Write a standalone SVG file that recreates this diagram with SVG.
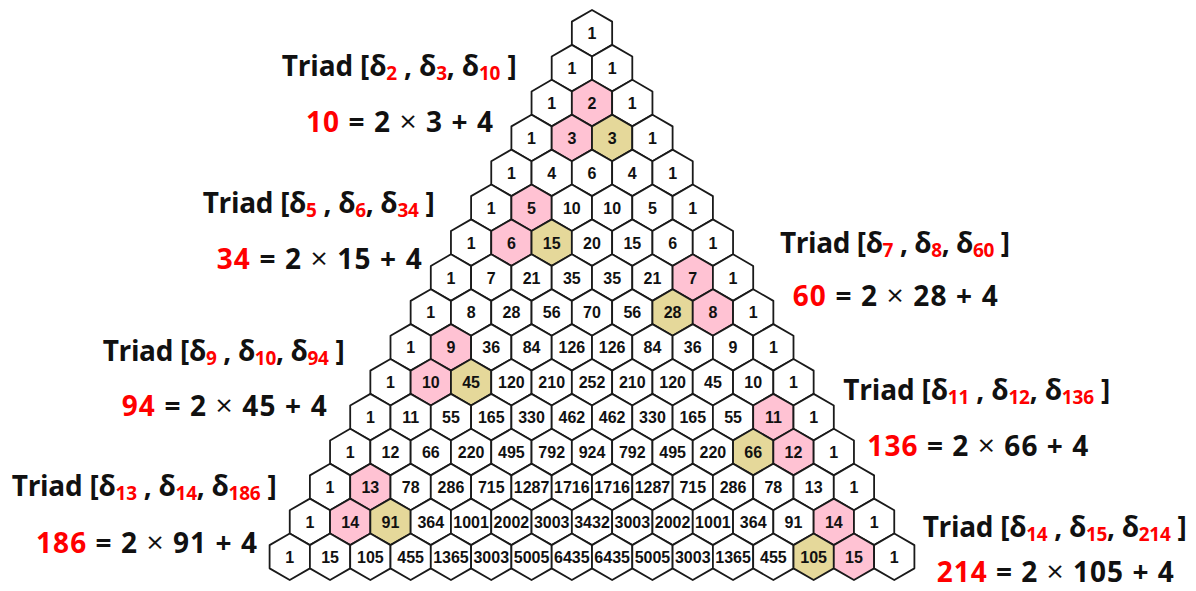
<svg xmlns="http://www.w3.org/2000/svg" xmlns:xlink="http://www.w3.org/1999/xlink" width="1196" height="591" viewBox="0 0 1196 591">
  <style>
    .hx { stroke: #1a1a1a; stroke-width: 1.8; stroke-linejoin: round; }
    .w { fill: #ffffff; }
    .p { fill: #ffc2d3; }
    .k { fill: #e5d89a; }
    .n text { font-family: "Liberation Sans", Arial, sans-serif; font-weight: bold; font-size: 16px; fill: #111; text-anchor: middle; }
    .lb { font-family: "Open Sans", "Noto Sans", sans-serif; font-weight: bold; font-size: 28px; fill: #111; }
    .s { fill: #ff0000; font-size: 19px; }
    .r { fill: #ff0000; }
    .x { font-weight: normal; font-size: 30px; }
  </style>
  <defs>
    <path id="hex" class="hx" d="M0,-23.25 L20.15,-11.6 L20.15,11.6 L0,23.25 L-20.15,11.6 L-20.15,-11.6 Z"/>
  </defs>
  <rect width="1196" height="591" fill="#ffffff"/>

  <!-- connectors: the hexagons touch edge to edge, so there are no separate lines -->
  <g id="connectors"></g>

  <!-- Pascal's triangle, rows 0-15 -->
  <g id="triangle" class="n">
    <g id="n0-0" transform="translate(592 33.25)"><use href="#hex" class="w"/><text y="6">1</text></g>

    <g id="n1-0" transform="translate(571.85 68.15)"><use href="#hex" class="w"/><text y="6">1</text></g>
    <g id="n1-1" transform="translate(612.15 68.15)"><use href="#hex" class="w"/><text y="6">1</text></g>

    <g id="n2-0" transform="translate(551.7 103.05)"><use href="#hex" class="w"/><text y="6">1</text></g>
    <g id="n2-1" transform="translate(592 103.05)"><use href="#hex" class="p"/><text y="6">2</text></g>
    <g id="n2-2" transform="translate(632.3 103.05)"><use href="#hex" class="w"/><text y="6">1</text></g>

    <g id="n3-0" transform="translate(531.55 137.95)"><use href="#hex" class="w"/><text y="6">1</text></g>
    <g id="n3-1" transform="translate(571.85 137.95)"><use href="#hex" class="p"/><text y="6">3</text></g>
    <g id="n3-2" transform="translate(612.15 137.95)"><use href="#hex" class="k"/><text y="6">3</text></g>
    <g id="n3-3" transform="translate(652.45 137.95)"><use href="#hex" class="w"/><text y="6">1</text></g>

    <g id="n4-0" transform="translate(511.4 172.85)"><use href="#hex" class="w"/><text y="6">1</text></g>
    <g id="n4-1" transform="translate(551.7 172.85)"><use href="#hex" class="w"/><text y="6">4</text></g>
    <g id="n4-2" transform="translate(592 172.85)"><use href="#hex" class="w"/><text y="6">6</text></g>
    <g id="n4-3" transform="translate(632.3 172.85)"><use href="#hex" class="w"/><text y="6">4</text></g>
    <g id="n4-4" transform="translate(672.6 172.85)"><use href="#hex" class="w"/><text y="6">1</text></g>

    <g id="n5-0" transform="translate(491.25 207.75)"><use href="#hex" class="w"/><text y="6">1</text></g>
    <g id="n5-1" transform="translate(531.55 207.75)"><use href="#hex" class="p"/><text y="6">5</text></g>
    <g id="n5-2" transform="translate(571.85 207.75)"><use href="#hex" class="w"/><text y="6">10</text></g>
    <g id="n5-3" transform="translate(612.15 207.75)"><use href="#hex" class="w"/><text y="6">10</text></g>
    <g id="n5-4" transform="translate(652.45 207.75)"><use href="#hex" class="w"/><text y="6">5</text></g>
    <g id="n5-5" transform="translate(692.75 207.75)"><use href="#hex" class="w"/><text y="6">1</text></g>

    <g id="n6-0" transform="translate(471.1 242.65)"><use href="#hex" class="w"/><text y="6">1</text></g>
    <g id="n6-1" transform="translate(511.4 242.65)"><use href="#hex" class="p"/><text y="6">6</text></g>
    <g id="n6-2" transform="translate(551.7 242.65)"><use href="#hex" class="k"/><text y="6">15</text></g>
    <g id="n6-3" transform="translate(592 242.65)"><use href="#hex" class="w"/><text y="6">20</text></g>
    <g id="n6-4" transform="translate(632.3 242.65)"><use href="#hex" class="w"/><text y="6">15</text></g>
    <g id="n6-5" transform="translate(672.6 242.65)"><use href="#hex" class="w"/><text y="6">6</text></g>
    <g id="n6-6" transform="translate(712.9 242.65)"><use href="#hex" class="w"/><text y="6">1</text></g>

    <g id="n7-0" transform="translate(450.95 277.55)"><use href="#hex" class="w"/><text y="6">1</text></g>
    <g id="n7-1" transform="translate(491.25 277.55)"><use href="#hex" class="w"/><text y="6">7</text></g>
    <g id="n7-2" transform="translate(531.55 277.55)"><use href="#hex" class="w"/><text y="6">21</text></g>
    <g id="n7-3" transform="translate(571.85 277.55)"><use href="#hex" class="w"/><text y="6">35</text></g>
    <g id="n7-4" transform="translate(612.15 277.55)"><use href="#hex" class="w"/><text y="6">35</text></g>
    <g id="n7-5" transform="translate(652.45 277.55)"><use href="#hex" class="w"/><text y="6">21</text></g>
    <g id="n7-6" transform="translate(692.75 277.55)"><use href="#hex" class="p"/><text y="6">7</text></g>
    <g id="n7-7" transform="translate(733.05 277.55)"><use href="#hex" class="w"/><text y="6">1</text></g>

    <g id="n8-0" transform="translate(430.8 312.45)"><use href="#hex" class="w"/><text y="6">1</text></g>
    <g id="n8-1" transform="translate(471.1 312.45)"><use href="#hex" class="w"/><text y="6">8</text></g>
    <g id="n8-2" transform="translate(511.4 312.45)"><use href="#hex" class="w"/><text y="6">28</text></g>
    <g id="n8-3" transform="translate(551.7 312.45)"><use href="#hex" class="w"/><text y="6">56</text></g>
    <g id="n8-4" transform="translate(592 312.45)"><use href="#hex" class="w"/><text y="6">70</text></g>
    <g id="n8-5" transform="translate(632.3 312.45)"><use href="#hex" class="w"/><text y="6">56</text></g>
    <g id="n8-6" transform="translate(672.6 312.45)"><use href="#hex" class="k"/><text y="6">28</text></g>
    <g id="n8-7" transform="translate(712.9 312.45)"><use href="#hex" class="p"/><text y="6">8</text></g>
    <g id="n8-8" transform="translate(753.2 312.45)"><use href="#hex" class="w"/><text y="6">1</text></g>

    <g id="n9-0" transform="translate(410.65 347.35)"><use href="#hex" class="w"/><text y="6">1</text></g>
    <g id="n9-1" transform="translate(450.95 347.35)"><use href="#hex" class="p"/><text y="6">9</text></g>
    <g id="n9-2" transform="translate(491.25 347.35)"><use href="#hex" class="w"/><text y="6">36</text></g>
    <g id="n9-3" transform="translate(531.55 347.35)"><use href="#hex" class="w"/><text y="6">84</text></g>
    <g id="n9-4" transform="translate(571.85 347.35)"><use href="#hex" class="w"/><text y="6">126</text></g>
    <g id="n9-5" transform="translate(612.15 347.35)"><use href="#hex" class="w"/><text y="6">126</text></g>
    <g id="n9-6" transform="translate(652.45 347.35)"><use href="#hex" class="w"/><text y="6">84</text></g>
    <g id="n9-7" transform="translate(692.75 347.35)"><use href="#hex" class="w"/><text y="6">36</text></g>
    <g id="n9-8" transform="translate(733.05 347.35)"><use href="#hex" class="w"/><text y="6">9</text></g>
    <g id="n9-9" transform="translate(773.35 347.35)"><use href="#hex" class="w"/><text y="6">1</text></g>

    <g id="n10-0" transform="translate(390.5 382.25)"><use href="#hex" class="w"/><text y="6">1</text></g>
    <g id="n10-1" transform="translate(430.8 382.25)"><use href="#hex" class="p"/><text y="6">10</text></g>
    <g id="n10-2" transform="translate(471.1 382.25)"><use href="#hex" class="k"/><text y="6">45</text></g>
    <g id="n10-3" transform="translate(511.4 382.25)"><use href="#hex" class="w"/><text y="6">120</text></g>
    <g id="n10-4" transform="translate(551.7 382.25)"><use href="#hex" class="w"/><text y="6">210</text></g>
    <g id="n10-5" transform="translate(592 382.25)"><use href="#hex" class="w"/><text y="6">252</text></g>
    <g id="n10-6" transform="translate(632.3 382.25)"><use href="#hex" class="w"/><text y="6">210</text></g>
    <g id="n10-7" transform="translate(672.6 382.25)"><use href="#hex" class="w"/><text y="6">120</text></g>
    <g id="n10-8" transform="translate(712.9 382.25)"><use href="#hex" class="w"/><text y="6">45</text></g>
    <g id="n10-9" transform="translate(753.2 382.25)"><use href="#hex" class="w"/><text y="6">10</text></g>
    <g id="n10-10" transform="translate(793.5 382.25)"><use href="#hex" class="w"/><text y="6">1</text></g>

    <g id="n11-0" transform="translate(370.35 417.15)"><use href="#hex" class="w"/><text y="6">1</text></g>
    <g id="n11-1" transform="translate(410.65 417.15)"><use href="#hex" class="w"/><text y="6">11</text></g>
    <g id="n11-2" transform="translate(450.95 417.15)"><use href="#hex" class="w"/><text y="6">55</text></g>
    <g id="n11-3" transform="translate(491.25 417.15)"><use href="#hex" class="w"/><text y="6">165</text></g>
    <g id="n11-4" transform="translate(531.55 417.15)"><use href="#hex" class="w"/><text y="6">330</text></g>
    <g id="n11-5" transform="translate(571.85 417.15)"><use href="#hex" class="w"/><text y="6">462</text></g>
    <g id="n11-6" transform="translate(612.15 417.15)"><use href="#hex" class="w"/><text y="6">462</text></g>
    <g id="n11-7" transform="translate(652.45 417.15)"><use href="#hex" class="w"/><text y="6">330</text></g>
    <g id="n11-8" transform="translate(692.75 417.15)"><use href="#hex" class="w"/><text y="6">165</text></g>
    <g id="n11-9" transform="translate(733.05 417.15)"><use href="#hex" class="w"/><text y="6">55</text></g>
    <g id="n11-10" transform="translate(773.35 417.15)"><use href="#hex" class="p"/><text y="6">11</text></g>
    <g id="n11-11" transform="translate(813.65 417.15)"><use href="#hex" class="w"/><text y="6">1</text></g>

    <g id="n12-0" transform="translate(350.2 452.05)"><use href="#hex" class="w"/><text y="6">1</text></g>
    <g id="n12-1" transform="translate(390.5 452.05)"><use href="#hex" class="w"/><text y="6">12</text></g>
    <g id="n12-2" transform="translate(430.8 452.05)"><use href="#hex" class="w"/><text y="6">66</text></g>
    <g id="n12-3" transform="translate(471.1 452.05)"><use href="#hex" class="w"/><text y="6">220</text></g>
    <g id="n12-4" transform="translate(511.4 452.05)"><use href="#hex" class="w"/><text y="6">495</text></g>
    <g id="n12-5" transform="translate(551.7 452.05)"><use href="#hex" class="w"/><text y="6">792</text></g>
    <g id="n12-6" transform="translate(592 452.05)"><use href="#hex" class="w"/><text y="6">924</text></g>
    <g id="n12-7" transform="translate(632.3 452.05)"><use href="#hex" class="w"/><text y="6">792</text></g>
    <g id="n12-8" transform="translate(672.6 452.05)"><use href="#hex" class="w"/><text y="6">495</text></g>
    <g id="n12-9" transform="translate(712.9 452.05)"><use href="#hex" class="w"/><text y="6">220</text></g>
    <g id="n12-10" transform="translate(753.2 452.05)"><use href="#hex" class="k"/><text y="6">66</text></g>
    <g id="n12-11" transform="translate(793.5 452.05)"><use href="#hex" class="p"/><text y="6">12</text></g>
    <g id="n12-12" transform="translate(833.8 452.05)"><use href="#hex" class="w"/><text y="6">1</text></g>

    <g id="n13-0" transform="translate(330.05 486.95)"><use href="#hex" class="w"/><text y="6">1</text></g>
    <g id="n13-1" transform="translate(370.35 486.95)"><use href="#hex" class="p"/><text y="6">13</text></g>
    <g id="n13-2" transform="translate(410.65 486.95)"><use href="#hex" class="w"/><text y="6">78</text></g>
    <g id="n13-3" transform="translate(450.95 486.95)"><use href="#hex" class="w"/><text y="6">286</text></g>
    <g id="n13-4" transform="translate(491.25 486.95)"><use href="#hex" class="w"/><text y="6">715</text></g>
    <g id="n13-5" transform="translate(531.55 486.95)"><use href="#hex" class="w"/><text y="6">1287</text></g>
    <g id="n13-6" transform="translate(571.85 486.95)"><use href="#hex" class="w"/><text y="6">1716</text></g>
    <g id="n13-7" transform="translate(612.15 486.95)"><use href="#hex" class="w"/><text y="6">1716</text></g>
    <g id="n13-8" transform="translate(652.45 486.95)"><use href="#hex" class="w"/><text y="6">1287</text></g>
    <g id="n13-9" transform="translate(692.75 486.95)"><use href="#hex" class="w"/><text y="6">715</text></g>
    <g id="n13-10" transform="translate(733.05 486.95)"><use href="#hex" class="w"/><text y="6">286</text></g>
    <g id="n13-11" transform="translate(773.35 486.95)"><use href="#hex" class="w"/><text y="6">78</text></g>
    <g id="n13-12" transform="translate(813.65 486.95)"><use href="#hex" class="w"/><text y="6">13</text></g>
    <g id="n13-13" transform="translate(853.95 486.95)"><use href="#hex" class="w"/><text y="6">1</text></g>

    <g id="n14-0" transform="translate(309.9 521.85)"><use href="#hex" class="w"/><text y="6">1</text></g>
    <g id="n14-1" transform="translate(350.2 521.85)"><use href="#hex" class="p"/><text y="6">14</text></g>
    <g id="n14-2" transform="translate(390.5 521.85)"><use href="#hex" class="k"/><text y="6">91</text></g>
    <g id="n14-3" transform="translate(430.8 521.85)"><use href="#hex" class="w"/><text y="6">364</text></g>
    <g id="n14-4" transform="translate(471.1 521.85)"><use href="#hex" class="w"/><text y="6">1001</text></g>
    <g id="n14-5" transform="translate(511.4 521.85)"><use href="#hex" class="w"/><text y="6">2002</text></g>
    <g id="n14-6" transform="translate(551.7 521.85)"><use href="#hex" class="w"/><text y="6">3003</text></g>
    <g id="n14-7" transform="translate(592 521.85)"><use href="#hex" class="w"/><text y="6">3432</text></g>
    <g id="n14-8" transform="translate(632.3 521.85)"><use href="#hex" class="w"/><text y="6">3003</text></g>
    <g id="n14-9" transform="translate(672.6 521.85)"><use href="#hex" class="w"/><text y="6">2002</text></g>
    <g id="n14-10" transform="translate(712.9 521.85)"><use href="#hex" class="w"/><text y="6">1001</text></g>
    <g id="n14-11" transform="translate(753.2 521.85)"><use href="#hex" class="w"/><text y="6">364</text></g>
    <g id="n14-12" transform="translate(793.5 521.85)"><use href="#hex" class="w"/><text y="6">91</text></g>
    <g id="n14-13" transform="translate(833.8 521.85)"><use href="#hex" class="p"/><text y="6">14</text></g>
    <g id="n14-14" transform="translate(874.1 521.85)"><use href="#hex" class="w"/><text y="6">1</text></g>

    <g id="n15-0" transform="translate(289.75 556.75)"><use href="#hex" class="w"/><text y="6">1</text></g>
    <g id="n15-1" transform="translate(330.05 556.75)"><use href="#hex" class="w"/><text y="6">15</text></g>
    <g id="n15-2" transform="translate(370.35 556.75)"><use href="#hex" class="w"/><text y="6">105</text></g>
    <g id="n15-3" transform="translate(410.65 556.75)"><use href="#hex" class="w"/><text y="6">455</text></g>
    <g id="n15-4" transform="translate(450.95 556.75)"><use href="#hex" class="w"/><text y="6">1365</text></g>
    <g id="n15-5" transform="translate(491.25 556.75)"><use href="#hex" class="w"/><text y="6">3003</text></g>
    <g id="n15-6" transform="translate(531.55 556.75)"><use href="#hex" class="w"/><text y="6">5005</text></g>
    <g id="n15-7" transform="translate(571.85 556.75)"><use href="#hex" class="w"/><text y="6">6435</text></g>
    <g id="n15-8" transform="translate(612.15 556.75)"><use href="#hex" class="w"/><text y="6">6435</text></g>
    <g id="n15-9" transform="translate(652.45 556.75)"><use href="#hex" class="w"/><text y="6">5005</text></g>
    <g id="n15-10" transform="translate(692.75 556.75)"><use href="#hex" class="w"/><text y="6">3003</text></g>
    <g id="n15-11" transform="translate(733.05 556.75)"><use href="#hex" class="w"/><text y="6">1365</text></g>
    <g id="n15-12" transform="translate(773.35 556.75)"><use href="#hex" class="w"/><text y="6">455</text></g>
    <g id="n15-13" transform="translate(813.65 556.75)"><use href="#hex" class="k"/><text y="6">105</text></g>
    <g id="n15-14" transform="translate(853.95 556.75)"><use href="#hex" class="p"/><text y="6">15</text></g>
    <g id="n15-15" transform="translate(894.25 556.75)"><use href="#hex" class="w"/><text y="6">1</text></g>
  </g>

  <!-- triad annotations -->
  <g id="triad-2">
    <text class="lb" x="281.7" y="76" textLength="235" lengthAdjust="spacing">Triad [δ<tspan class="s" dy="4">2</tspan><tspan dy="-4"> , δ</tspan><tspan class="s" dy="4">3</tspan><tspan dy="-4">, δ</tspan><tspan class="s" dy="4">10</tspan><tspan dy="-4"> ]</tspan></text>
    <text class="lb" x="306" y="131.7" textLength="187" lengthAdjust="spacing"><tspan class="r">10</tspan> = 2 <tspan class="x">×</tspan> 3 + 4</text>
  </g>
  <g id="triad-5">
    <text class="lb" x="202.7" y="213.3" textLength="232" lengthAdjust="spacing">Triad [δ<tspan class="s" dy="4">5</tspan><tspan dy="-4"> , δ</tspan><tspan class="s" dy="4">6</tspan><tspan dy="-4">, δ</tspan><tspan class="s" dy="4">34</tspan><tspan dy="-4"> ]</tspan></text>
    <text class="lb" x="216.7" y="269.3" textLength="205" lengthAdjust="spacing"><tspan class="r">34</tspan> = 2 <tspan class="x">×</tspan> 15 + 4</text>
  </g>
  <g id="triad-7">
    <text class="lb" x="780" y="253.3" textLength="230" lengthAdjust="spacing">Triad [δ<tspan class="s" dy="4">7</tspan><tspan dy="-4"> , δ</tspan><tspan class="s" dy="4">8</tspan><tspan dy="-4">, δ</tspan><tspan class="s" dy="4">60</tspan><tspan dy="-4"> ]</tspan></text>
    <text class="lb" x="792.7" y="306" textLength="205" lengthAdjust="spacing"><tspan class="r">60</tspan> = 2 <tspan class="x">×</tspan> 28 + 4</text>
  </g>
  <g id="triad-9">
    <text class="lb" x="102.7" y="361" textLength="242" lengthAdjust="spacing">Triad [δ<tspan class="s" dy="4">9</tspan><tspan dy="-4"> , δ</tspan><tspan class="s" dy="4">10</tspan><tspan dy="-4">, δ</tspan><tspan class="s" dy="4">94</tspan><tspan dy="-4"> ]</tspan></text>
    <text class="lb" x="121.7" y="415.7" textLength="205" lengthAdjust="spacing"><tspan class="r">94</tspan> = 2 <tspan class="x">×</tspan> 45 + 4</text>
  </g>
  <g id="triad-11">
    <text class="lb" x="843.3" y="400" textLength="267" lengthAdjust="spacing">Triad [δ<tspan class="s" dy="4">11</tspan><tspan dy="-4"> , δ</tspan><tspan class="s" dy="4">12</tspan><tspan dy="-4">, δ</tspan><tspan class="s" dy="4">136</tspan><tspan dy="-4"> ]</tspan></text>
    <text class="lb" x="867.3" y="455.7" textLength="221" lengthAdjust="spacing"><tspan class="r">136</tspan> = 2 <tspan class="x">×</tspan> 66 + 4</text>
  </g>
  <g id="triad-13">
    <text class="lb" x="11.7" y="496" textLength="265" lengthAdjust="spacing">Triad [δ<tspan class="s" dy="4">13</tspan><tspan dy="-4"> , δ</tspan><tspan class="s" dy="4">14</tspan><tspan dy="-4">, δ</tspan><tspan class="s" dy="4">186</tspan><tspan dy="-4"> ]</tspan></text>
    <text class="lb" x="36" y="552.7" textLength="221" lengthAdjust="spacing"><tspan class="r">186</tspan> = 2 <tspan class="x">×</tspan> 91 + 4</text>
  </g>
  <g id="triad-14">
    <text class="lb" x="922.7" y="536.7" textLength="264" lengthAdjust="spacing">Triad [δ<tspan class="s" dy="4">14</tspan><tspan dy="-4"> , δ</tspan><tspan class="s" dy="4">15</tspan><tspan dy="-4">, δ</tspan><tspan class="s" dy="4">214</tspan><tspan dy="-4"> ]</tspan></text>
    <text class="lb" x="936.7" y="582" textLength="237" lengthAdjust="spacing"><tspan class="r">214</tspan> = 2 <tspan class="x">×</tspan> 105 + 4</text>
  </g>
</svg>
